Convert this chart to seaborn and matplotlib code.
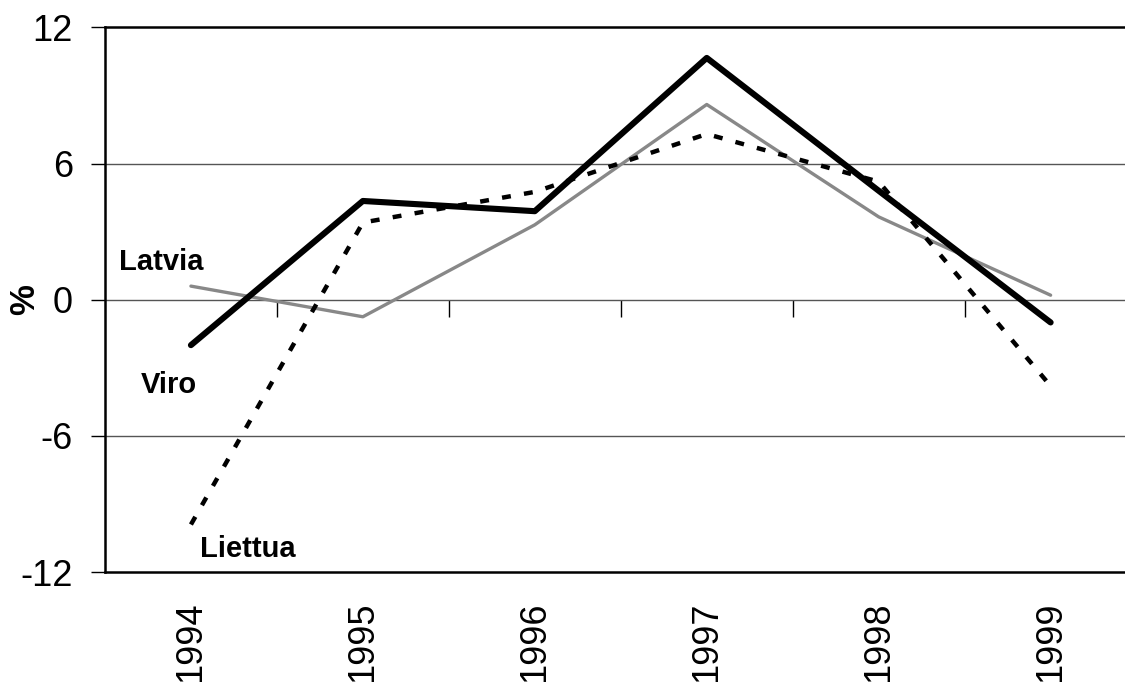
import matplotlib
matplotlib.use("Agg")
import matplotlib.pyplot as plt
import seaborn as sns
import pandas as pd

# values (%)
years = ["1994", "1995", "1996", "1997", "1998", "1999"]
viro = [-2.0, 4.35, 3.9, 10.65, 4.8, -1.0]
latvia = [0.6, -0.75, 3.3, 8.6, 3.65, 0.2]
liettua = [-9.9, 3.4, 4.75, 7.3, 5.2, -3.8]

yticks = [-12, -6, 0, 6, 12]

sns.set_theme(style="white")
plt.rcParams["font.family"] = ["Liberation Sans", "DejaVu Sans"]

df = pd.DataFrame({"year": years, "Viro": viro, "Latvia": latvia, "Liettua": liettua})

fig = plt.figure(figsize=(11.25, 6.82), dpi=100)
ax = fig.add_axes([0.0933, 0.161, 0.917, 0.799])

# gridlines first so lines sit on top
for y in [-6, 0, 6]:
    ax.axhline(y, color="#555555", lw=1.0, zorder=1)

sns.lineplot(data=df, x="year", y="Latvia", ax=ax, color="#888888", lw=2.4,
             sort=False, zorder=3)
sns.lineplot(data=df, x="year", y="Liettua", ax=ax, color="black", lw=3.2,
             sort=False, zorder=4)
ax.lines[-1].set_dashes([2.0, 3.0])
sns.lineplot(data=df, x="year", y="Viro", ax=ax, color="black", lw=4.4,
             sort=False, zorder=5)

ax.set_xlim(-0.5, 5.5)
ax.set_ylim(-12, 12)
ax.set_yticks(yticks)
ax.set_yticklabels([str(t) for t in yticks], fontsize=26, color="black")
ax.tick_params(axis="y", direction="out", length=10, width=1, color="black",
               pad=13, left=True)
ax.tick_params(axis="x", length=0, pad=21, labelsize=26, labelrotation=90,
               labelcolor="black")
ax.set_xlabel("")
ax.set_ylabel("%", fontsize=25, fontweight="bold", color="black")
ax.yaxis.set_label_coords(-0.062, 0.5)

for side in ["left", "top", "bottom"]:
    ax.spines[side].set_color("black")
    ax.spines[side].set_linewidth(1.8)
ax.spines["right"].set_visible(False)

# category tick marks on the zero line
sec = ax.secondary_xaxis(0.5)
sec.set_alignment("bottom")
sec.set_xticks([0.5, 1.5, 2.5, 3.5, 4.5])
sec.set_xticklabels([])
sec.tick_params(direction="out", length=12, width=1, color="black")
for s in sec.spines.values():
    s.set_visible(False)

# series labels
ax.text(-0.42, 1.65, "Latvia", fontsize=21, fontweight="bold", va="center", color="black")
ax.text(-0.29, -3.75, "Viro", fontsize=21, fontweight="bold", va="center", color="black")
ax.text(0.05, -11.0, "Liettua", fontsize=21, fontweight="bold", va="center", color="black")

fig.savefig("out.png", dpi=100)
